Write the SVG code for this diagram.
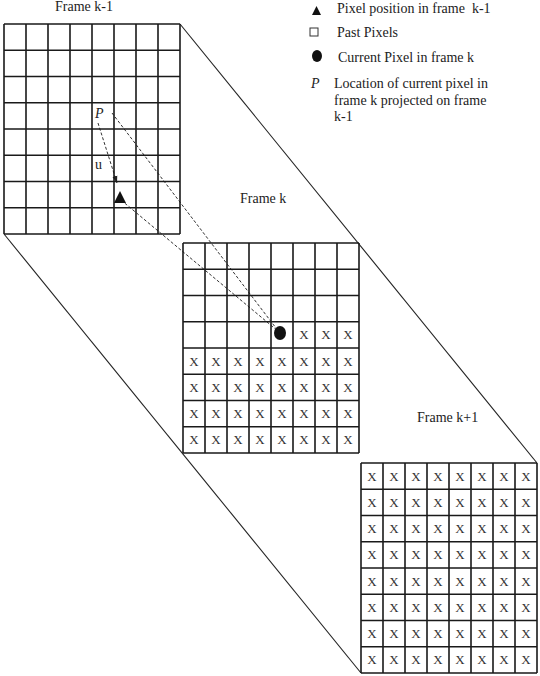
<svg xmlns="http://www.w3.org/2000/svg" width="540" height="676" viewBox="0 0 540 676">
<style>
.grid{fill:none;stroke:#1a1a1a;stroke-width:1.6}
.lbl{font-family:"Liberation Serif","Times New Roman",serif;font-size:14px;fill:#222}
.x{font-family:"Liberation Serif","Times New Roman",serif;font-size:13px;fill:#333;text-anchor:middle}
.diag{stroke:#222;stroke-width:1.1;fill:none}
.dash{stroke:#333;stroke-width:1;fill:none;stroke-dasharray:3 2}
</style>
<defs>
<marker id="ah" markerWidth="8" markerHeight="8" refX="7" refY="4" orient="auto" markerUnits="userSpaceOnUse">
<path d="M0,1.5 L7,4 L0,6.5 Z" fill="#222"/>
</marker>
</defs>
<rect width="540" height="676" fill="#fff"/>

<g id="connectors">
<line class="diag" x1="180" y1="24" x2="537" y2="463"/>
<line class="diag" x1="4" y1="234" x2="361" y2="673"/>
<line class="dash" x1="112" y1="113" x2="279" y2="332"/>
<line class="dash" x1="98" y1="123" x2="117" y2="183" marker-end="url(#ah)"/>
<line class="dash" x1="121" y1="200" x2="279" y2="332"/>
</g>

<g id="frame-k-minus-1">
<text class="lbl" x="55" y="11">Frame k-1</text>
<path class="grid" d="M4,24V234M26,24V234M48,24V234M70,24V234M92,24V234M114,24V234M136,24V234M158,24V234M180,24V234M4,24H180M4,50.25H180M4,76.5H180M4,102.75H180M4,129H180M4,155.25H180M4,181.5H180M4,207.75H180M4,234H180"/>
<text class="lbl" x="95" y="118" font-style="italic">P</text>
<text class="lbl" x="95" y="169" font-size="13">u</text>
<polygon points="120,191 114,203 126,203" fill="#111"/>
</g>

<g id="frame-k">
<text class="lbl" x="240" y="203">Frame k</text>
<path class="grid" d="M183,243V453M205,243V453M227,243V453M249,243V453M271,243V453M293,243V453M315,243V453M337,243V453M359,243V453M183,243H359M183,269.25H359M183,295.5H359M183,321.75H359M183,348H359M183,374.25H359M183,400.5H359M183,426.75H359M183,453H359"/>
<ellipse cx="280" cy="333" rx="6" ry="7" fill="#111"/>
<g class="x">
<text x="304" y="339.4">X</text><text x="326" y="339.4">X</text><text x="348" y="339.4">X</text>
<text x="194" y="365.6">X</text><text x="216" y="365.6">X</text><text x="238" y="365.6">X</text><text x="260" y="365.6">X</text><text x="282" y="365.6">X</text><text x="304" y="365.6">X</text><text x="326" y="365.6">X</text><text x="348" y="365.6">X</text>
<text x="194" y="391.9">X</text><text x="216" y="391.9">X</text><text x="238" y="391.9">X</text><text x="260" y="391.9">X</text><text x="282" y="391.9">X</text><text x="304" y="391.9">X</text><text x="326" y="391.9">X</text><text x="348" y="391.9">X</text>
<text x="194" y="418.1">X</text><text x="216" y="418.1">X</text><text x="238" y="418.1">X</text><text x="260" y="418.1">X</text><text x="282" y="418.1">X</text><text x="304" y="418.1">X</text><text x="326" y="418.1">X</text><text x="348" y="418.1">X</text>
<text x="194" y="444.4">X</text><text x="216" y="444.4">X</text><text x="238" y="444.4">X</text><text x="260" y="444.4">X</text><text x="282" y="444.4">X</text><text x="304" y="444.4">X</text><text x="326" y="444.4">X</text><text x="348" y="444.4">X</text>
</g>
</g>

<g id="frame-k-plus-1">
<text class="lbl" x="417" y="422">Frame k+1</text>
<path class="grid" d="M361,463V673M383,463V673M405,463V673M427,463V673M449,463V673M471,463V673M493,463V673M515,463V673M537,463V673M361,463H537M361,489.25H537M361,515.5H537M361,541.75H537M361,568H537M361,594.25H537M361,620.5H537M361,646.75H537M361,673H537"/>
<g class="x">
<text x="372" y="480.6">X</text><text x="394" y="480.6">X</text><text x="416" y="480.6">X</text><text x="438" y="480.6">X</text><text x="460" y="480.6">X</text><text x="482" y="480.6">X</text><text x="504" y="480.6">X</text><text x="526" y="480.6">X</text>
<text x="372" y="506.9">X</text><text x="394" y="506.9">X</text><text x="416" y="506.9">X</text><text x="438" y="506.9">X</text><text x="460" y="506.9">X</text><text x="482" y="506.9">X</text><text x="504" y="506.9">X</text><text x="526" y="506.9">X</text>
<text x="372" y="533.1">X</text><text x="394" y="533.1">X</text><text x="416" y="533.1">X</text><text x="438" y="533.1">X</text><text x="460" y="533.1">X</text><text x="482" y="533.1">X</text><text x="504" y="533.1">X</text><text x="526" y="533.1">X</text>
<text x="372" y="559.4">X</text><text x="394" y="559.4">X</text><text x="416" y="559.4">X</text><text x="438" y="559.4">X</text><text x="460" y="559.4">X</text><text x="482" y="559.4">X</text><text x="504" y="559.4">X</text><text x="526" y="559.4">X</text>
<text x="372" y="585.6">X</text><text x="394" y="585.6">X</text><text x="416" y="585.6">X</text><text x="438" y="585.6">X</text><text x="460" y="585.6">X</text><text x="482" y="585.6">X</text><text x="504" y="585.6">X</text><text x="526" y="585.6">X</text>
<text x="372" y="611.9">X</text><text x="394" y="611.9">X</text><text x="416" y="611.9">X</text><text x="438" y="611.9">X</text><text x="460" y="611.9">X</text><text x="482" y="611.9">X</text><text x="504" y="611.9">X</text><text x="526" y="611.9">X</text>
<text x="372" y="638.1">X</text><text x="394" y="638.1">X</text><text x="416" y="638.1">X</text><text x="438" y="638.1">X</text><text x="460" y="638.1">X</text><text x="482" y="638.1">X</text><text x="504" y="638.1">X</text><text x="526" y="638.1">X</text>
<text x="372" y="664.4">X</text><text x="394" y="664.4">X</text><text x="416" y="664.4">X</text><text x="438" y="664.4">X</text><text x="460" y="664.4">X</text><text x="482" y="664.4">X</text><text x="504" y="664.4">X</text><text x="526" y="664.4">X</text>
</g>
</g>

<g id="legend">
<polygon points="316.5,6 312,15 321,15" fill="#111"/>
<text class="lbl" x="337" y="13">Pixel position in frame&#160; k-1</text>
<rect x="310" y="28" width="8" height="8" fill="none" stroke="#333" stroke-width="1"/>
<text class="lbl" x="337" y="37">Past Pixels</text>
<ellipse cx="317" cy="56" rx="5" ry="6" fill="#111"/>
<text class="lbl" x="338" y="62">Current Pixel in frame k</text>
<text class="lbl" x="311" y="88" font-style="italic" font-size="12">P</text>
<text class="lbl" x="334" y="88">Location of current pixel in</text>
<text class="lbl" x="334" y="105">frame k projected on frame</text>
<text class="lbl" x="334" y="121">k-1</text>
</g>
</svg>
